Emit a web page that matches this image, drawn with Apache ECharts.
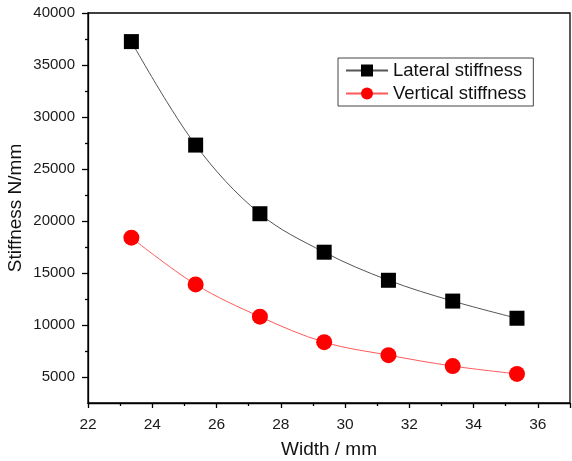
<!DOCTYPE html>
<html><head><meta charset="utf-8">
<script src="https://cdn.jsdelivr.net/npm/echarts@6/dist/echarts.min.js"></script>
<style>html,body{margin:0;padding:0;background:#fff}#c{width:572px;height:461px}</style>
</head><body><div id="c"></div>
<script>
const widths = [23.35, 25.35, 27.35, 29.35, 31.35, 33.35, 35.35];
const lateral = [37250, 27300, 20700, 17000, 14300, 12300, 10650];
const vertical = [18400, 13900, 10800, 8350, 7100, 6050, 5300];
const yMajor = [5000, 10000, 15000, 20000, 25000, 30000, 35000, 40000];
const yMinor = [7500, 12500, 17500, 22500, 27500, 32500, 37500];

const font = 'Liberation Sans, Arial, sans-serif';
const chart = echarts.init(document.getElementById('c'), null, {renderer: 'canvas'});
const axisLineStyle = {color: '#000', width: 1.3};
chart.setOption({
  animation: false,
  backgroundColor: '#fff',
  grid: {left: 88, top: 13, right: 2, bottom: 58, show: true, borderColor: '#000', borderWidth: 1.3,
    containLabel: false, outerBoundsMode: 'none'},
  legend: {
    left: 338, top: 58, orient: 'vertical',
    padding: [3, 7, 3, 7],
    borderColor: '#444', borderWidth: 1,
    itemWidth: 42, itemHeight: 15, itemGap: 4,
    textStyle: {fontFamily: font, fontSize: 18.5, color: '#111'},
    data: ['Lateral stiffness', 'Vertical stiffness']
  },
  xAxis: {
    type: 'value', min: 22, max: 37, interval: 2,
    name: 'Width / mm', nameLocation: 'middle', nameGap: 37,
    nameTextStyle: {fontFamily: font, fontSize: 19, color: '#111'},
    axisLine: {lineStyle: axisLineStyle},
    axisTick: {length: 5, lineStyle: {color: '#000', width: 1.3}},
    minorTick: {show: true, splitNumber: 2, length: 3, lineStyle: {color: '#000', width: 1.3}},
    splitLine: {show: false},
    axisLabel: {fontFamily: font, fontSize: 15.5, color: '#1a1a1a', margin: 14,
      formatter: v => (v % 2 === 0 ? String(v) : '')}
  },
  yAxis: [{
    type: 'value', min: 2500, max: 40000, interval: 2500,
    name: 'Stiffness N/mm', nameLocation: 'middle', nameGap: 63, nameMoveOverlap: false,
    nameTextStyle: {fontFamily: font, fontSize: 19, color: '#111'},
    axisLine: {show: true, lineStyle: axisLineStyle},
    axisTick: {show: true, customValues: yMajor, length: 6, lineStyle: {color: '#000', width: 1.3}},
    splitLine: {show: false},
    axisLabel: {customValues: yMajor, fontFamily: font, fontSize: 15, color: '#1a1a1a', margin: 13,
      formatter: v => String(v)}
  }, {
    type: 'value', min: 2500, max: 40000, interval: 2500, position: 'left',
    axisLine: {show: false},
    axisTick: {show: true, customValues: yMinor, length: 3, lineStyle: {color: '#000', width: 1.3}},
    splitLine: {show: false},
    axisLabel: {show: false}
  }],
  series: [{
    name: 'Lateral stiffness', type: 'line', smooth: 0.35,
    data: widths.map((w, i) => [w, lateral[i]]),
    symbol: 'rect', symbolSize: 15,
    itemStyle: {color: '#000'},
    lineStyle: {color: '#555', width: 1}
  }, {
    name: 'Vertical stiffness', type: 'line', smooth: 0.35,
    data: widths.map((w, i) => [w, vertical[i]]),
    symbol: 'circle', symbolSize: 16,
    itemStyle: {color: '#ff0000'},
    lineStyle: {color: '#ff5a5a', width: 1}
  }]
});
</script></body></html>
